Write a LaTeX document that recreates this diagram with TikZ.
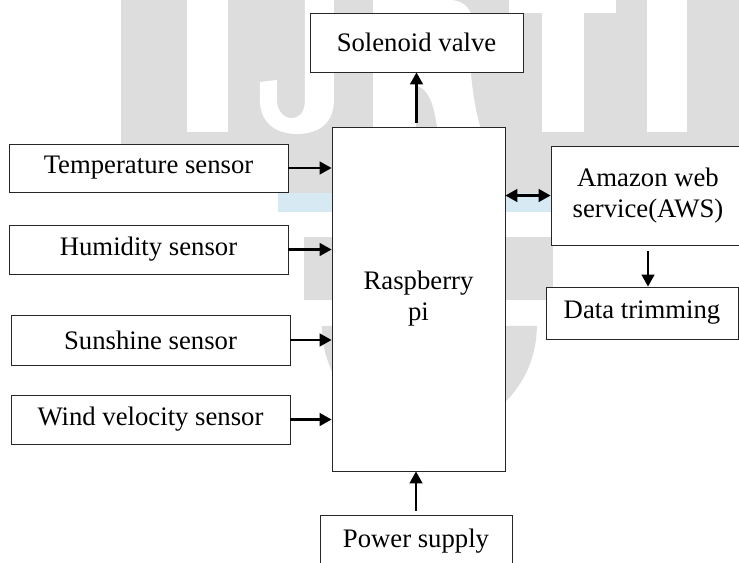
\documentclass[tikz,border=0pt]{standalone}
\usepackage{fontspec}
\setmainfont{Liberation Serif}
\usetikzlibrary{arrows.meta}
\definecolor{wmgray}{RGB}{221,221,221}
\definecolor{wmblue}{RGB}{215,233,243}

\begin{document}
\begin{tikzpicture}[
  >={Triangle[length=3mm, width=3.2mm]},
  box/.style={rectangle, draw=black!85, fill=white, line width=0.6pt, inner sep=0pt, align=center, font=\fontsize{19}{22}\selectfont},
  link/.style={line width=1.5pt}
]
\useasboundingbox (0,0) rectangle (18.475,14.05);

% watermark behind the blocks
\begin{scope}[yshift=14.05cm, x=0.025cm, y=-0.025cm]
\fill[wmgray] (121,0) rectangle (739,193);
\fill[wmblue] (278,193) rectangle (560,212);
\fill[wmgray] (304,237) rectangle (553,300);
\fill[wmgray] (322,326) arc[start angle=180, end angle=0, radius=107.5] -- cycle;
\fill[white] (187,0) rectangle (228,132);
\fill[white] (305,0) -- (334,0) -- (334,100) .. controls (334,124) and (318,134) .. (297,134) .. controls (275,134) and (260,122) .. (260,100) -- (260,82) -- (277,80) -- (277,100) .. controls (277,112) and (285,118) .. (291,118) .. controls (300,118) and (305,112) .. (305,100) -- cycle;
\fill[white] (373,0) rectangle (416,132);
\fill[white] (416,0) -- (450,0) .. controls (475,0) and (480,30) .. (470,60) .. controls (472,90) and (476,115) .. (482,132) -- (438,132) .. controls (434,105) and (430,90) .. (416,85) -- cycle;
\fill[white] (509,0) rectangle (616,13);
\fill[white] (542,0) rectangle (584,132);
\fill[white] (647,0) rectangle (687,132);
\end{scope}

\node[box, minimum width=5.325cm, minimum height=1.475cm] (sol) at (10.4125,12.9875) {Solenoid valve};
\node[box, minimum width=4.325cm, minimum height=8.6cm] (rpi) at (10.4625,6.575) {Raspberry\\pi};

\node[box, minimum width=6.975cm, minimum height=1.2cm] (temp) at (3.7125,9.85) {Temperature sensor};
\node[box, minimum width=6.975cm, minimum height=1.225cm] (hum) at (3.7125,7.8125) {Humidity sensor};
\node[box, minimum width=6.975cm, minimum height=1.25cm] (sun) at (3.7625,5.55) {Sunshine sensor};
\node[box, minimum width=6.975cm, minimum height=1.225cm] (wind) at (3.7625,3.5625) {Wind velocity sensor};

\node[box, minimum width=4.85cm, minimum height=2.475cm] (aws) at (16.2,9.1625) {Amazon web\\service(AWS)};
\node[box, minimum width=4.8cm, minimum height=1.3cm] (dt) at (16.05,6.225) {Data trimming};
\node[box, minimum width=4.8cm, minimum height=1.3cm] (pwr) at (10.4,0.525) {Power supply};

\draw[->, link] (temp.east) -- (temp.east -| rpi.west);
\draw[->, link] (hum.east) -- (hum.east -| rpi.west);
\draw[->, link] (sun.east) -- (sun.east -| rpi.west);
\draw[->, link] (wind.east) -- (wind.east -| rpi.west);

\draw[->, link, shorten <=0.1cm] (sol.south |- rpi.north) -- (sol.south);
\draw[<->, link] (rpi.east |- aws.west) -- (aws.west);
\draw[->, link, shorten <=0.15cm] (aws.south) -- (aws.south |- dt.north);
\draw[->, link, shorten <=0.1cm] (pwr.north) -- (pwr.north |- rpi.south);

\end{tikzpicture}
\end{document}
